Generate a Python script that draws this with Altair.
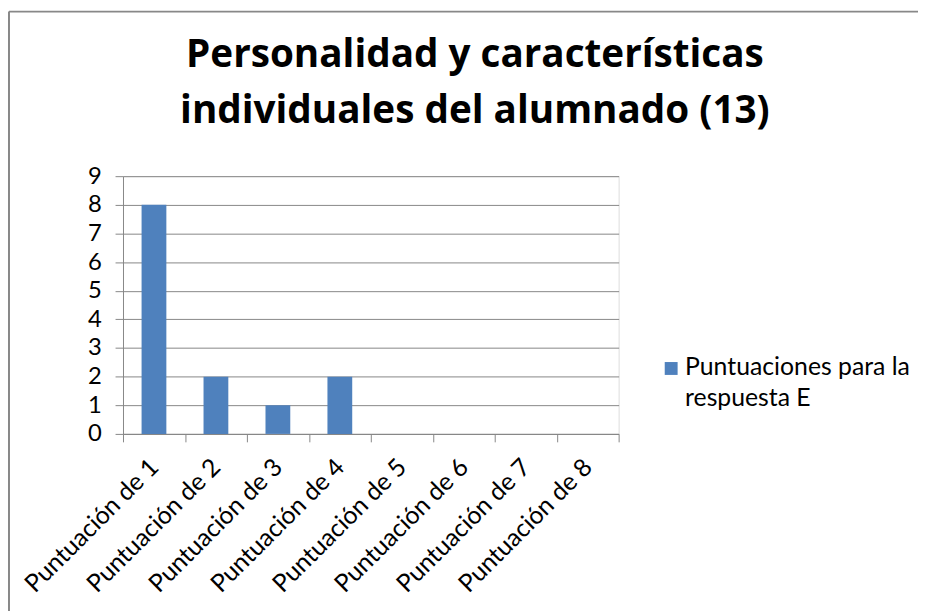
import altair as alt
import pandas as pd

categories = ["Puntuación de 1", "Puntuación de 2", "Puntuación de 3", "Puntuación de 4",
              "Puntuación de 5", "Puntuación de 6", "Puntuación de 7", "Puntuación de 8"]
values = [8, 2, 1, 2, 0, 0, 0, 0]
series_name = "Puntuaciones para la respuesta E"
legend_lines = ["Puntuaciones para la", "respuesta E"]
title_lines = ["Personalidad y características", "individuales del alumnado (13)"]
y_ticks = list(range(0, 10))

df = pd.DataFrame({"cat": categories, "val": values, "serie": [series_name] * len(categories)})
legend_df = pd.DataFrame({"serie": [series_name]})

FONT = "Lato"
TFONT = "Open Sans"
GRAY = "#878787"
BLUE = "#4F81BD"

bars = alt.Chart(df).mark_bar(width=alt.RelativeBandSize(0.4), color=BLUE).encode(
    x=alt.X("cat:N", sort=categories,
            scale=alt.Scale(paddingInner=0, paddingOuter=0),
            axis=alt.Axis(title=None, labelAngle=-45, labelAlign="right", labelBaseline="middle",
                          labelFontSize=25, labelFont=FONT, labelColor="#000000",
                          tickBand="extent", tickSize=8, tickColor=GRAY, domainColor=GRAY,
                          labelPadding=21, grid=False, labelLimit=400)),
    y=alt.Y("val:Q", scale=alt.Scale(domain=[0, 9]),
            axis=alt.Axis(title=None, values=y_ticks, labelFontSize=24, labelFont=FONT,
                          labelColor="#000000", tickSize=8, tickColor=GRAY, domainColor=GRAY,
                          gridColor=GRAY, gridOpacity=1, labelPadding=14)),
)

legend_sym = alt.Chart(legend_df).mark_square(size=169, color=BLUE, opacity=1).encode(
    x=alt.value(553), y=alt.value(194)
)
legend_txt = alt.Chart(legend_df).mark_text(
    align="left", baseline="alphabetic", font=FONT, fontSize=25, lineHeight=31, color="#000000"
).encode(x=alt.value(567), y=alt.value(201), text=alt.value(legend_lines))

border_top = alt.Chart(legend_df).mark_rule(color="#888888", strokeWidth=2).encode(
    x=alt.value(-115), x2=alt.value(820), y=alt.value(-166)
)
border_left = alt.Chart(legend_df).mark_rule(color="#888888", strokeWidth=2).encode(
    x=alt.value(-115), y=alt.value(-166), y2=alt.value(460)
)

chart = alt.layer(bars, legend_sym, legend_txt, border_top, border_left).properties(
    width=500, height=260,
    autosize=alt.AutoSizeParams(type="none"),
    padding={"left": 116, "top": 167, "right": 302, "bottom": 176},
    title=alt.TitleParams(text=title_lines, fontSize=39, font=TFONT, fontWeight="bold",
                          color="#000000", anchor="middle", dx=105, lineHeight=56,
                          baseline="alphabetic", offset=-152),
).configure_view(stroke=None).configure(background="white")

chart.save("out.html", embed_options={"renderer": "svg", "actions": False})
